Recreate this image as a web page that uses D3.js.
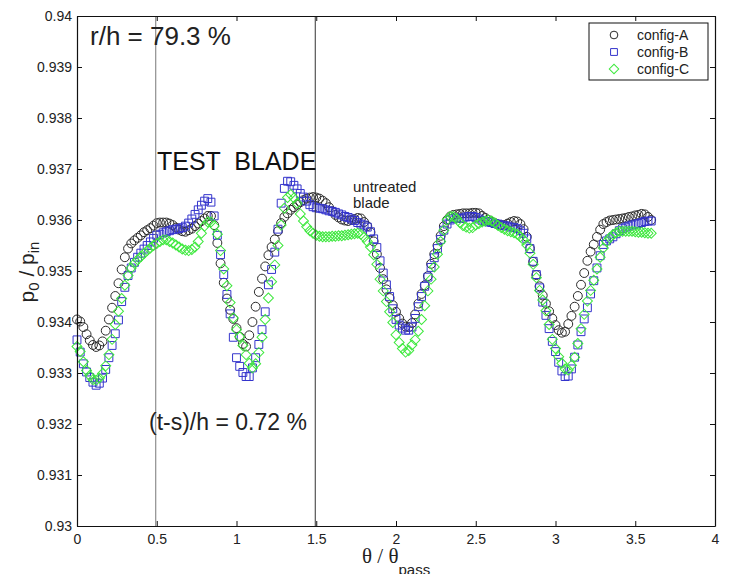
<!DOCTYPE html>
<html><head><meta charset="utf-8">
<script src="https://cdn.jsdelivr.net/npm/d3@7"></script>
<style>
html,body{margin:0;padding:0;background:#fff;}
svg{display:block;}
text{font-family:"Liberation Sans",Arial,Helvetica,sans-serif;}
</style></head>
<body><svg id="chart" width="736" height="574"></svg>
<script>
const thetaStep = 0.02;
const xTicks = [0, 0.5, 1, 1.5, 2, 2.5, 3, 3.5, 4];
const xTickLabels = ["0", "0.5", "1", "1.5", "2", "2.5", "3", "3.5", "4"];
const yTicks = [0.93, 0.931, 0.932, 0.933, 0.934, 0.935, 0.936, 0.937, 0.938, 0.939, 0.94];
const yTickLabels = ["0.93", "0.931", "0.932", "0.933", "0.934", "0.935", "0.936", "0.937", "0.938", "0.939", "0.94"];
const bladeLines = [0.5, 1.5];
const seriesNames = ["config-A", "config-B", "config-C"];

const configA = [
0.93405,0.93401,0.93390,0.93376,0.93364,0.93355,0.93351,0.93354,0.93362,0.93383,
0.93405,0.93428,0.93451,0.93476,0.93503,0.93527,0.93544,0.93554,0.93560,0.93565,
0.93570,0.93576,0.93580,0.93584,0.93589,0.93594,0.93595,0.93595,0.93595,0.93593,
0.93590,0.93585,0.93581,0.93578,0.93577,0.93580,0.93583,0.93588,0.93593,0.93598,
0.93603,0.93608,0.93608,0.93590,0.93555,0.93515,0.93477,0.93446,0.93424,0.93406,
0.93388,0.93371,0.93357,0.93352,0.93374,0.93400,0.93430,0.93459,0.93485,0.93509,
0.93531,0.93547,0.93562,0.93578,0.93594,0.93606,0.93613,0.93620,0.93625,0.93630,
0.93635,0.93639,0.93642,0.93644,0.93645,0.93644,0.93642,0.93638,0.93633,0.93625,
0.93617,0.93610,0.93605,0.93601,0.93599,0.93598,0.93600,0.93602,0.93604,0.93603,
0.93596,0.93588,0.93576,0.93558,0.93533,0.93506,0.93484,0.93464,0.93447,0.93433,
0.93420,0.93407,0.93397,0.93391,0.93390,0.93398,0.93415,0.93436,0.93455,0.93472,
0.93490,0.93514,0.93533,0.93550,0.93569,0.93588,0.93600,0.93607,0.93610,0.93611,
0.93612,0.93613,0.93613,0.93613,0.93614,0.93614,0.93613,0.93608,0.93604,0.93600,
0.93597,0.93594,0.93591,0.93590,0.93590,0.93593,0.93596,0.93598,0.93597,0.93592,
0.93582,0.93567,0.93544,0.93518,0.93492,0.93470,0.93452,0.93436,0.93421,0.93407,
0.93394,0.93384,0.93379,0.93381,0.93396,0.93412,0.93430,0.93451,0.93473,0.93496,
0.93520,0.93538,0.93552,0.93567,0.93581,0.93592,0.93596,0.93599,0.93600,0.93601,
0.93602,0.93603,0.93604,0.93606,0.93607,0.93609,0.93610,0.93612,0.93611,0.93606,
0.93600];

const configB = [
0.93365,0.93341,0.93318,0.93302,0.93291,0.93282,0.93276,0.93280,0.93290,0.93307,
0.93330,0.93354,0.93377,0.93404,0.93440,0.93468,0.93491,0.93506,0.93517,0.93527,
0.93535,0.93543,0.93550,0.93557,0.93564,0.93570,0.93572,0.93575,0.93577,0.93579,
0.93581,0.93582,0.93583,0.93585,0.93588,0.93594,0.93602,0.93611,0.93620,0.93629,
0.93637,0.93642,0.93635,0.93608,0.93570,0.93532,0.93493,0.93454,0.93416,0.93370,
0.93330,0.93313,0.93301,0.93293,0.93293,0.93310,0.93330,0.93356,0.93385,0.93420,
0.93473,0.93503,0.93537,0.93582,0.93633,0.93662,0.93676,0.93675,0.93668,0.93661,
0.93652,0.93645,0.93637,0.93630,0.93626,0.93624,0.93623,0.93622,0.93620,0.93618,
0.93617,0.93615,0.93612,0.93610,0.93607,0.93605,0.93602,0.93599,0.93595,0.93592,
0.93590,0.93586,0.93577,0.93563,0.93546,0.93520,0.93496,0.93473,0.93450,0.93426,
0.93405,0.93394,0.93388,0.93384,0.93384,0.93390,0.93407,0.93430,0.93450,0.93470,
0.93488,0.93507,0.93526,0.93544,0.93562,0.93580,0.93592,0.93600,0.93603,0.93604,
0.93603,0.93604,0.93606,0.93607,0.93607,0.93605,0.93602,0.93599,0.93597,0.93596,
0.93595,0.93593,0.93592,0.93590,0.93589,0.93588,0.93586,0.93585,0.93583,0.93579,
0.93574,0.93563,0.93544,0.93519,0.93493,0.93467,0.93439,0.93413,0.93387,0.93362,
0.93342,0.93321,0.93304,0.93293,0.93294,0.93308,0.93331,0.93355,0.93381,0.93406,
0.93428,0.93455,0.93481,0.93506,0.93530,0.93552,0.93559,0.93563,0.93567,0.93573,
0.93579,0.93583,0.93586,0.93588,0.93590,0.93592,0.93593,0.93595,0.93597,0.93598,
0.93598];

const configC = [
0.93352,0.93342,0.93322,0.93305,0.93295,0.93287,0.93286,0.93290,0.93299,0.93314,
0.93336,0.93366,0.93395,0.93421,0.93446,0.93472,0.93491,0.93506,0.93515,0.93522,
0.93528,0.93534,0.93540,0.93545,0.93550,0.93554,0.93558,0.93561,0.93561,0.93558,
0.93555,0.93551,0.93547,0.93543,0.93541,0.93540,0.93542,0.93547,0.93558,0.93574,
0.93588,0.93596,0.93596,0.93588,0.93572,0.93540,0.93504,0.93471,0.93438,0.93408,
0.93385,0.93371,0.93354,0.93336,0.93319,0.93310,0.93318,0.93340,0.93370,0.93405,
0.93447,0.93479,0.93512,0.93550,0.93590,0.93623,0.93644,0.93650,0.93643,0.93633,
0.93612,0.93598,0.93587,0.93579,0.93574,0.93570,0.93568,0.93567,0.93567,0.93567,
0.93568,0.93568,0.93569,0.93569,0.93570,0.93571,0.93572,0.93573,0.93574,0.93572,
0.93566,0.93558,0.93547,0.93532,0.93513,0.93484,0.93461,0.93440,0.93420,0.93399,
0.93375,0.93360,0.93348,0.93341,0.93344,0.93355,0.93365,0.93382,0.93405,0.93432,
0.93461,0.93484,0.93508,0.93533,0.93558,0.93580,0.93600,0.93607,0.93607,0.93603,
0.93595,0.93589,0.93586,0.93584,0.93585,0.93590,0.93593,0.93596,0.93598,0.93600,
0.93598,0.93594,0.93589,0.93585,0.93582,0.93579,0.93577,0.93575,0.93572,0.93567,
0.93561,0.93551,0.93535,0.93513,0.93487,0.93462,0.93443,0.93422,0.93395,0.93366,
0.93348,0.93332,0.93319,0.93308,0.93306,0.93315,0.93331,0.93358,0.93387,0.93415,
0.93441,0.93462,0.93482,0.93504,0.93527,0.93545,0.93558,0.93565,0.93571,0.93575,
0.93578,0.93578,0.93578,0.93578,0.93578,0.93577,0.93576,0.93576,0.93575,0.93574,
0.93574];

const svg = d3.select("#chart");
svg.append("rect").attr("width", 736).attr("height", 574).attr("fill", "#fff");

const L = 77, R = 715, T = 16, B = 526;
const x = d3.scaleLinear().domain([0, 4]).range([L, R]);
const y = d3.scaleLinear().domain([0.93, 0.94]).range([B, T]);

// markers
const styles = [
  {data: configA, type: d3.symbolCircle, size: 62, rot: 0, color: "#2a2a2a"},
  {data: configB, type: d3.symbolSquare, size: 62, rot: 0, color: "#3434cc"},
  {data: configC, type: d3.symbolSquare, size: 50, rot: 45, color: "#3de83d"}
];
styles.forEach(s => {
  const pts = s.data.map((v, i) => ({t: i * thetaStep, v}));
  svg.append("g").selectAll("path").data(pts).join("path")
    .attr("d", d3.symbol().type(s.type).size(s.size))
    .attr("transform", d => `translate(${x(d.t)},${y(d.v)}) rotate(${s.rot})`)
    .attr("fill", "none").attr("stroke", s.color).attr("stroke-width", 1);
});

// vertical blade lines
svg.append("g").selectAll("line").data(bladeLines).join("line")
  .attr("x1", d => x(d) - 1).attr("x2", d => x(d) - 1)
  .attr("y1", T).attr("y2", B)
  .attr("stroke", (d, i) => i === 0 ? "#777" : "#333").attr("stroke-width", 1);

// axes
const fmtX = d => xTickLabels[xTicks.indexOf(d)];
const fmtY = d => yTickLabels[yTicks.indexOf(d)];
const gx = svg.append("g").attr("transform", `translate(0,${B})`)
  .call(d3.axisBottom(x).tickValues(xTicks).tickFormat(fmtX).tickSizeInner(-5).tickSizeOuter(0).tickPadding(8));
const gy = svg.append("g").attr("transform", `translate(${L},0)`)
  .call(d3.axisLeft(y).tickValues(yTicks).tickFormat(fmtY).tickSizeInner(-5).tickSizeOuter(0).tickPadding(5));
const gt = svg.append("g").attr("transform", `translate(0,${T})`)
  .call(d3.axisTop(x).tickValues(xTicks).tickFormat("").tickSizeInner(-5).tickSizeOuter(0));
const gr = svg.append("g").attr("transform", `translate(${R},0)`)
  .call(d3.axisRight(y).tickValues(yTicks).tickFormat("").tickSizeInner(-5).tickSizeOuter(0));
[gx, gy, gt, gr].forEach(g => {
  g.select(".domain").attr("stroke", "#111").attr("stroke-width", 1.2);
  g.selectAll(".tick line").attr("stroke", "#111");
  g.selectAll("text").attr("font-family", "Liberation Sans, Arial, sans-serif")
    .attr("font-size", 14).attr("fill", "#222");
});

// axis titles
const yl = svg.append("text").attr("transform", "translate(34,272) rotate(-90)")
  .attr("text-anchor", "middle").attr("font-size", 21).attr("fill", "#222");
yl.append("tspan").text("p");
yl.append("tspan").attr("font-size", 15).attr("dy", 5).text("0");
yl.append("tspan").attr("dy", -5).text(" / p");
yl.append("tspan").attr("font-size", 15).attr("dy", 5).text("in");

const xl = svg.append("text").attr("x", 362).attr("y", 563)
  .attr("font-size", 21).attr("fill", "#222");
xl.append("tspan").attr("font-family", "Liberation Serif, Times New Roman, serif").text("θ / θ");
xl.append("tspan").attr("font-size", 15).attr("dy", 12).text("pass");

// annotations
svg.append("text").attr("x", 90).attr("y", 45).attr("font-size", 26).attr("fill", "#222").text("r/h = 79.3 %");
svg.append("text").attr("x", 157).attr("y", 170).attr("font-size", 25).attr("fill", "#111")
  .attr("xml:space", "preserve").style("white-space", "pre").text("TEST  BLADE");
svg.append("text").attr("x", 353).attr("y", 192).attr("font-size", 15).attr("fill", "#222").text("untreated");
svg.append("text").attr("x", 353).attr("y", 208).attr("font-size", 15).attr("fill", "#222").text("blade");
svg.append("text").attr("x", 149).attr("y", 430).attr("font-size", 23).attr("fill", "#222").text("(t-s)/h = 0.72 %");

// legend
const lg = svg.append("g");
lg.append("rect").attr("x", 589).attr("y", 23).attr("width", 119).attr("height", 57)
  .attr("fill", "#fff").attr("stroke", "#111").attr("stroke-width", 1);
seriesNames.forEach((name, i) => {
  const s = styles[i];
  const cy = 35 + i * 17;
  lg.append("path").attr("d", d3.symbol().type(s.type).size(s.size * (i === 2 ? 0.9 : 0.75))())
    .attr("transform", `translate(614,${cy}) rotate(${s.rot})`)
    .attr("fill", "none").attr("stroke", s.color).attr("stroke-width", 1);
  lg.append("text").attr("x", 637).attr("y", cy).attr("dy", "0.35em")
    .attr("font-size", 14).attr("fill", "#222").text(name);
});
</script></body></html>
